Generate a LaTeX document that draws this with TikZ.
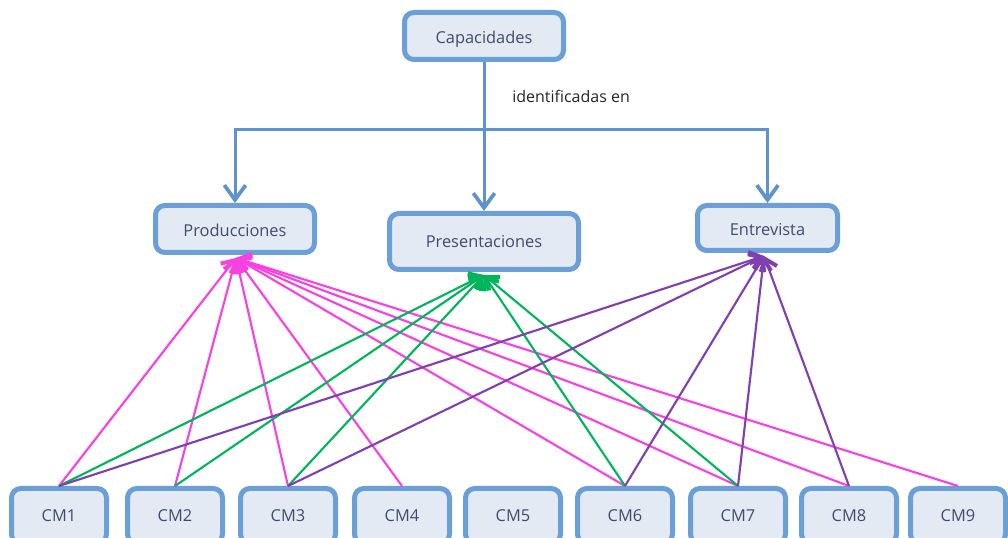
\documentclass[tikz,border=0pt]{standalone}
\usepackage{fontspec}
\setmainfont{Open Sans}
\usetikzlibrary{arrows.meta,backgrounds}
\definecolor{boxblue}{HTML}{6A9FD8}
\definecolor{boxfill}{HTML}{E3EAF4}
\definecolor{txt}{HTML}{3F4C6B}
\definecolor{pinkc}{HTML}{F940E0}
\definecolor{greenc}{HTML}{00B55A}
\definecolor{purplec}{HTML}{8040B0}
\definecolor{bline}{HTML}{5F93CE}
\begin{document}
\begin{tikzpicture}[x=0.75pt,y=-0.75pt,
  box/.style={draw=boxblue, fill=boxfill, line width=3.75pt, rounded corners=7pt,
    text=txt, font=\fontsize{12.3}{14}\selectfont, inner sep=0pt},
  lowtext/.style={text height=11pt, text depth=0pt},
  cmbox/.style={box, minimum width=71.25pt, minimum height=41.25pt},
  bluearrow/.style={draw=bline, line width=2.25pt, -{Straight Barb[length=11pt,width=16pt,line width=2.8pt]}},
  blueline/.style={draw=bline, line width=2.25pt},
  link/.style={line width=1.6pt, -{Straight Barb[length=8pt,width=13pt,line width=3pt]}},
  plink/.style={link, draw=pinkc},
  glink/.style={link, draw=greenc},
  ulink/.style={link, draw=purplec},
  lab/.style={text=black!85, font=\fontsize{12}{14}\selectfont, inner sep=0pt}
]
\useasboundingbox (0,0) rectangle (1008,538);

\node[box, lowtext, minimum width=119.25pt, minimum height=35.25pt] (cap) at (484,36) {Capacidades};
\node[box, lowtext, minimum width=119.25pt, minimum height=35.25pt] (prod) at (235,229) {Producciones};
\node[box, minimum width=141.75pt, minimum height=42pt] (pres) at (484,241.5) {Presentaciones};
\node[box, lowtext, minimum width=105pt, minimum height=33.75pt] (ent) at (767.5,228) {Entrevista};

\node[cmbox] (cm1) at (59,516) {CM1};
\node[cmbox] (cm2) at (175,516) {CM2};
\node[cmbox] (cm3) at (288,516) {CM3};
\node[cmbox] (cm4) at (402,516) {CM4};
\node[cmbox] (cm5) at (513,516) {CM5};
\node[cmbox] (cm6) at (625,516) {CM6};
\node[cmbox] (cm7) at (738,516) {CM7};
\node[cmbox] (cm8) at (849,516) {CM8};
\node[cmbox] (cm9) at (958,516) {CM9};

\node[lab, anchor=west] (idf) at (512,96) {identificadas en};

\coordinate (j) at (484,130);
\coordinate (tp) at (236,258);
\coordinate (tg) at (484,275);
\coordinate (tu) at (764,256);

\begin{pgfonlayer}{background}
\draw[blueline] (cap.south) -- (j);
\draw[bluearrow] (j) -| (prod.north);
\draw[bluearrow] (j) -| (ent.north);
\draw[bluearrow] (j) -- (pres.north);
\end{pgfonlayer}

\foreach \c in {cm1,cm2,cm3,cm4,cm6,cm7,cm8,cm9}
  \draw[plink] (\c.north) -- (tp);
\foreach \c in {cm1,cm2,cm3,cm6,cm7}
  \draw[glink] (\c.north) -- (tg);
\foreach \c in {cm1,cm3,cm6,cm7,cm8}
  \draw[ulink] (\c.north) -- (tu);
\end{tikzpicture}
\end{document}
